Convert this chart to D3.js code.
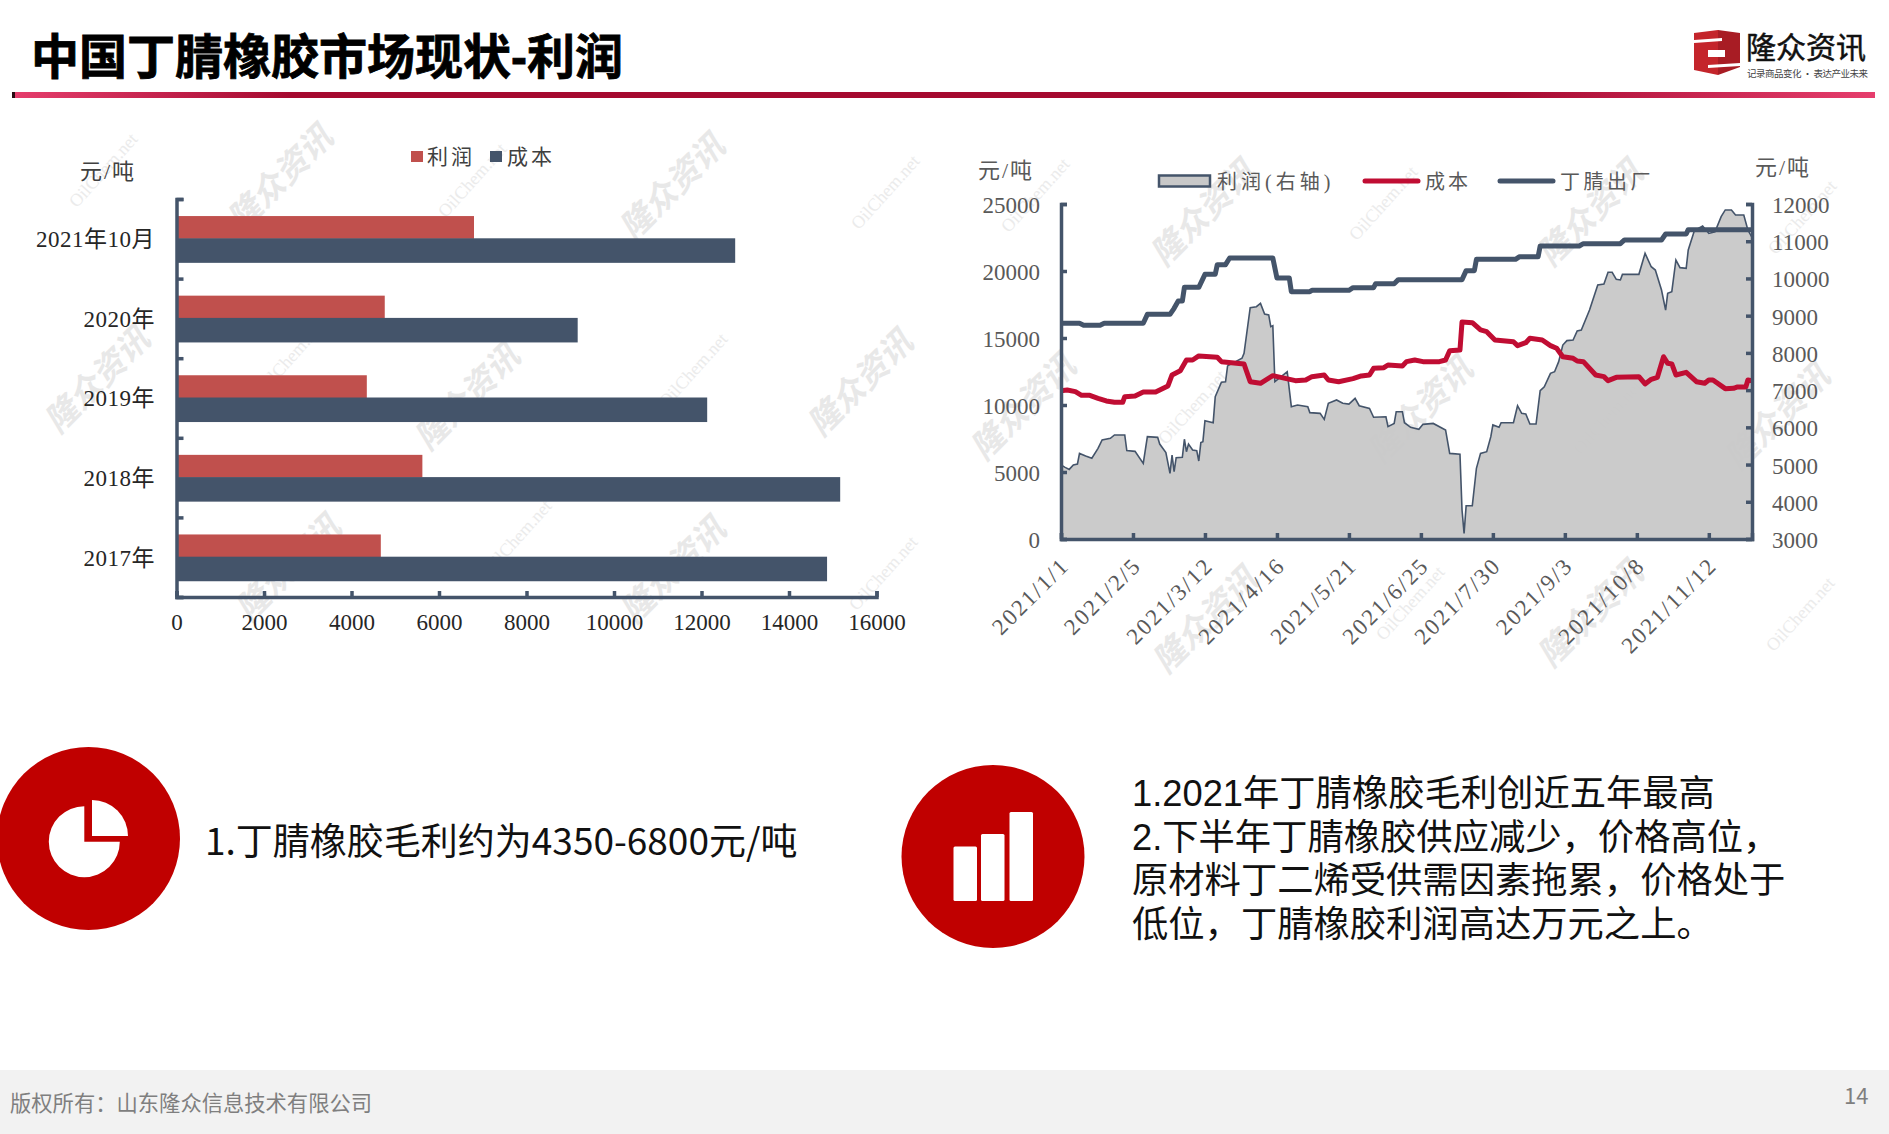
<!DOCTYPE html>
<html>
<head>
    <meta charset="utf-8">
    <title>中国丁腈橡胶市场现状-利润</title>
    <script src="https://d3js.org/d3.v7.min.js"></script>
    <style>
        html, body { margin: 0; padding: 0; background: #fff; }
        svg { display: block; }
        text { font-family: "Liberation Serif", "Noto Sans CJK SC", serif; }
        .sans { font-family: "Noto Sans CJK SC", sans-serif; }
        .arial { font-family: "Liberation Sans", "Noto Sans CJK SC", sans-serif; }
        .axis path, .axis line { stroke: #44546A; stroke-width: 3.5px; fill: none; }
        .axis text { font-size: 23px; }
    </style>
</head>
<body>
<svg id="page" width="1889" height="1134"></svg>
<script>
    // left chart
    const barCategories = ['2021年10月', '2020年', '2019年', '2018年', '2017年'];
    const barProfit = [6800, 4760, 4350, 5620, 4670];
    const barCost = [12770, 9170, 12130, 15170, 14870];
    const barTicks = [0, 2000, 4000, 6000, 8000, 10000, 12000, 14000, 16000];

    // right chart, [days since 2021/1/1, value]
    const profitSeries = [
        [0,4990],[2,4925],[4,4870],[6,4990],[8,5015],[9,5300],[12,5230],[15,5170],[18,5435],[20,5660],
        [24,5705],[26,5795],[31,5795],[32,5375],[36,5355],[40,5030],[42,5750],[47,5730],[48,5550],[51,5320],
        [53,4765],[54,5255],[55,4810],[56,5185],[59,5195],[60,5680],[61,5345],[62,5550],[64,5390],[66,5375],
        [67,5095],[68,5590],[69,5615],[70,6180],[74,6125],[75,6825],[78,7210],[80,7225],[81,7650],[88,7855],
        [89,7990],[92,9215],[95,9240],[97,9330],[99,9045],[101,9020],[102,8705],[103,8730],[104,7225],[109,7450],
        [110,7495],[112,6555],[115,6600],[120,6555],[121,6395],[126,6375],[128,6215],[130,6645],[134,6735],[137,6645],
        [140,6625],[143,6780],[145,6580],[150,6510],[152,6270],[158,6285],[159,6020],[162,6105],[163,6420],[166,6420],
        [167,6125],[170,6000],[174,5945],[176,6080],[181,6105],[187,5930],[189,5300],[194,5275],[195,3780],[196,3150],
        [197,3895],[200,3895],[202,4900],[204,5300],[207,5345],[209,5750],[210,6065],[213,6000],[214,6125],[220,6125],
        [222,6580],[224,6375],[226,6360],[228,6090],[231,6090],[233,6985],[235,7090],[238,7450],[240,7495],[242,7765],
        [244,8210],[246,8330],[249,8345],[251,8590],[253,8615],[257,9150],[261,9825],[264,9850],[266,10165],[268,10165],
        [270,9975],[272,9960],[273,10110],[281,10110],[284,10675],[287,10315],[289,10225],[292,9690],[294,9150],[295,9600],
        [297,9645],[299,10495],[301,10290],[304,10270],[305,10765],[308,11285],[312,11410],[315,11210],[318,11255],[321,11660],
        [323,11840],[326,11840],[328,11705],[332,11705],[334,11300],[336,11105]
    ];
    const costSeries = [
        [0,11070],[3,11120],[7,10995],[10,10720],[14,10720],[18,10500],[22,10300],[26,10200],[30,10200],[31,10620],
        [36,10670],[40,10970],[46,10970],[52,11420],[54,12240],[58,12560],[61,13360],[64,13360],[67,13660],[76,13560],
        [78,13235],[89,13060],[90,12610],[92,11740],[97,11620],[103,12190],[109,11990],[114,11815],[119,11865],[122,12115],
        [128,12240],[130,11865],[135,11740],[142,11965],[146,12165],[150,12240],[152,12735],[157,12785],[159,12985],[166,12910],
        [168,13235],[172,13360],[176,13235],[184,13235],[187,13360],[189,14055],[194,14105],[195,16195],[200,16145],[204,15600],
        [207,15475],[211,14850],[220,14725],[222,14430],[226,14650],[228,14975],[234,14850],[238,14430],[241,14230],[244,13605],
        [249,13485],[251,13285],[254,13235],[260,12240],[264,12115],[266,11815],[270,12065],[281,12115],[284,11570],[287,11915],
        [290,12065],[293,13605],[295,13110],[297,13060],[299,12240],[304,12440],[309,11740],[313,11620],[315,11865],[317,11865],
        [323,11220],[327,11245],[329,11345],[333,11345],[334,11865],[336,11815]
    ];
    const priceSeries = [
        [0,16095],[9,16095],[11,15945],[19,15945],[21,16095],[40,16095],[42,16765],[53,16765],[55,17215],[57,17760],
        [59,17760],[60,18780],[67,18780],[70,19750],[75,19750],[76,20475],[80,20475],[82,20970],[103,20970],[105,19480],
        [111,19480],[112,18460],[121,18460],[122,18560],[140,18560],[142,18755],[152,18755],[153,19055],[162,19055],[164,19355],
        [195,19355],[197,20025],[201,20025],[202,20870],[221,20870],[223,21070],[232,21070],[233,21865],[252,21865],[254,22040],
        [272,22040],[274,22315],[292,22315],[294,22760],[304,22760],[305,23085],[336,23085]
    ];
    const dateTicks = ['2021/1/1', '2021/2/5', '2021/3/12', '2021/4/16', '2021/5/21', '2021/6/25', '2021/7/30', '2021/9/3', '2021/10/8', '2021/11/12'];
    const leftTicks = [0, 5000, 10000, 15000, 20000, 25000];
    const rightTicks = [3000, 4000, 5000, 6000, 7000, 8000, 9000, 10000, 11000, 12000];

    // background stamps
    const stampLogo = [[280,178],[672,187],[97,380],[467,397],[860,383],[288,568],[673,570],[1203,213],[1590,213],[1023,407],[1420,410],[1777,417],[1205,620],[1590,614]];
    const stampNet = [[103,170],[472,180],[885,192],[1035,195],[1383,203],[1802,217],[290,357],[693,370],[1192,407],[1607,417],[517,537],[883,573],[1410,603],[1800,614]];

    const svg = d3.select('#page');
    const blue = '#44546A';
    const red = '#C0504D';
    const crimson = '#C00D33';
    const circleRed = '#C00000';

    // gradient of the title rule
    const grad = svg.append('defs').append('linearGradient').attr('id', 'rule');
    grad.append('stop').attr('offset', '0').attr('stop-color', '#E63E6D');
    grad.append('stop').attr('offset', '0.15').attr('stop-color', '#A50A30');
    grad.append('stop').attr('offset', '0.8').attr('stop-color', '#A50A30');
    grad.append('stop').attr('offset', '1').attr('stop-color', '#E63E6D');

    // watermarks sit under everything
    const marks = svg.append('g');
    marks.selectAll('.wm').data(stampLogo).join('text')
        .attr('class', 'wm sans')
        .attr('transform', d => `translate(${d[0]},${d[1]}) rotate(-45)`)
        .attr('text-anchor', 'middle')
        .attr('dy', '0.35em')
        .style('font-size', '33px')
        .style('font-weight', 700)
        .style('font-style', 'italic')
        .style('fill', '#E8E8E8')
        .text('隆众资讯');
    marks.selectAll('.net').data(stampNet).join('text')
        .attr('class', 'net')
        .attr('transform', d => `translate(${d[0]},${d[1]}) rotate(-48)`)
        .attr('text-anchor', 'middle')
        .attr('dy', '0.35em')
        .style('font-size', '18px')
        .style('fill', '#EBEBEB')
        .text('OilChem.net');

    // header
    svg.append('text').attr('class', 'arial')
        .attr('x', 31).attr('y', 74)
        .style('font-size', '48px').style('font-weight', 700)
        .style('stroke', '#000').style('stroke-width', 0.8)
        .text('中国丁腈橡胶市场现状-利润');
    svg.append('rect').attr('x', 12).attr('y', 92).attr('width', 1863).attr('height', 6).attr('fill', 'url(#rule)');
    svg.append('rect').attr('x', 12).attr('y', 92).attr('width', 3).attr('height', 6).attr('fill', '#2a0a12');

    // logo
    const logo = svg.append('g').attr('transform', 'translate(1694,30)');
    logo.append('path').attr('d', 'M0,3 L24,0 L24,45 L0,40 Z').attr('fill', '#C4252B');
    logo.append('path').attr('d', 'M24,0 L46,3 L46,37 L24,45 Z').attr('fill', '#A81C24');
    logo.append('path').attr('d', 'M0,10 L28,8 L28,11 L0,13 Z').attr('fill', '#fff');
    logo.append('path').attr('d', 'M14,20 L31,20 L31,27 L14,27 Z').attr('fill', '#fff');
    logo.append('path').attr('d', 'M14,35 L46,33 L46,36 L14,38 Z').attr('fill', '#fff');
    svg.append('text').attr('class', 'sans')
        .attr('x', 1746).attr('y', 58)
        .style('font-size', '30px').style('fill', '#111')
        .style('stroke', '#111').style('stroke-width', 0.5)
        .text('隆众资讯');
    svg.append('text').attr('class', 'sans')
        .attr('x', 1747).attr('y', 76.5)
        .attr('textLength', 121)
        .style('font-size', '9.5px').style('fill', '#444')
        .text('记录商品变化 · 表达产业未来');

    // ---- left chart ----
    const barX = d3.scaleLinear().domain([0, 16000]).range([176.5, 876.5]);
    const barY = d3.scaleBand().domain(barCategories).range([199, 597]);
    const barInner = d3.scaleBand().domain(['profit', 'cost']).range([0, barY.bandwidth()]).paddingOuter(0.75);

    svg.append('g').selectAll('rect').data(barCategories).join('rect')
        .attr('x', barX(0))
        .attr('y', d => barY(d) + barInner('profit'))
        .attr('width', (d, i) => barX(barProfit[i]) - barX(0))
        .attr('height', barInner.bandwidth())
        .attr('fill', red);
    // the dark bars run a little taller than the red ones in the source
    svg.append('g').selectAll('rect').data(barCategories).join('rect')
        .attr('x', barX(0))
        .attr('y', d => barY(d) + barInner('cost') - 0.5)
        .attr('width', (d, i) => barX(barCost[i]) - barX(0))
        .attr('height', barInner.bandwidth() + 1.8)
        .attr('fill', blue);

    const barAxisX = svg.append('g').attr('class', 'axis')
        .attr('transform', 'translate(0,597)')
        .call(d3.axisBottom(barX).tickValues(barTicks).tickSize(-6).tickPadding(17).tickFormat(d3.format('d')));
    barAxisX.selectAll('text').style('fill', '#262626');

    // ticks fall between the categories, labels on the band centres
    const barEdges = d3.scalePoint().domain(d3.range(barCategories.length + 1)).range([199, 597]);
    svg.append('g').attr('class', 'axis')
        .attr('transform', 'translate(176.5,0)')
        .call(d3.axisLeft(barEdges).tickSize(-7).tickFormat(''));
    const barAxisY = svg.append('g').attr('class', 'axis')
        .attr('transform', 'translate(155,1)')
        .call(d3.axisLeft(barY).tickSize(0).tickPadding(0));
    barAxisY.select('.domain').remove();
    barAxisY.selectAll('text').style('fill', '#262626').style('letter-spacing', '0.5px');

    svg.append('text').attr('x', 80).attr('y', 179)
        .style('font-size', '22px').style('fill', '#404040').style('letter-spacing', '2px')
        .text('元/吨');

    const barLegend = [['利润', red, 411, 427], ['成本', blue, 490, 507]];
    barLegend.forEach(d => {
        svg.append('rect').attr('x', d[2]).attr('y', 151).attr('width', 12).attr('height', 11).attr('fill', d[1]);
        svg.append('text').attr('x', d[3]).attr('y', 164)
            .style('font-size', '21px').style('fill', '#404040').style('letter-spacing', '3px')
            .text(d[0]);
    });

    // ---- right chart ----
    const parseDate = d3.timeParse('%Y/%-m/%-d');
    const formatDate = d3.timeFormat('%Y/%-m/%-d');
    const startDate = parseDate(dateTicks[0]);
    const toDate = day => d3.timeDay.offset(startDate, day);

    const lineX = d3.scaleTime().domain([startDate, toDate(336)]).range([1061, 1752]);
    const priceY = d3.scaleLinear().domain([0, 25000]).range([539, 204]);
    const profitY = d3.scaleLinear().domain([3000, 12000]).range([539, 204]);

    const profitArea = d3.area()
        .x(d => lineX(toDate(d[0])))
        .y0(539)
        .y1(d => profitY(d[1]));
    const profitLine = d3.line()
        .x(d => lineX(toDate(d[0])))
        .y(d => profitY(d[1]));
    const priceLine = d3.line()
        .x(d => lineX(toDate(d[0])))
        .y(d => priceY(d[1]));

    svg.append('path').datum(profitSeries).attr('d', profitArea).attr('fill', '#C8C8C8').attr('fill-opacity', 0.95);
    svg.append('path').datum(profitSeries).attr('d', profitLine)
        .attr('fill', 'none').attr('stroke', blue).attr('stroke-width', 1.6);
    svg.append('path').datum(costSeries).attr('d', priceLine)
        .attr('fill', 'none').attr('stroke', crimson).attr('stroke-width', 5).attr('stroke-linejoin', 'round');
    svg.append('path').datum(priceSeries).attr('d', priceLine)
        .attr('fill', 'none').attr('stroke', blue).attr('stroke-width', 5).attr('stroke-linejoin', 'round');

    const lineAxisL = svg.append('g').attr('class', 'axis')
        .attr('transform', 'translate(1061,0)')
        .call(d3.axisLeft(priceY).tickValues(leftTicks).tickSize(-6).tickPadding(21).tickFormat(d3.format('d')));
    lineAxisL.selectAll('text').attr('dy', '0.37em').style('fill', '#595959');

    const lineAxisR = svg.append('g').attr('class', 'axis')
        .attr('transform', 'translate(1752,0)')
        .call(d3.axisRight(profitY).tickValues(rightTicks).tickSize(-6).tickPadding(20).tickFormat(d3.format('d')));
    lineAxisR.selectAll('text').attr('dy', '0.37em').style('fill', '#595959');

    const lineAxisB = svg.append('g').attr('class', 'axis')
        .attr('transform', 'translate(0,539)')
        .call(d3.axisBottom(lineX).tickValues(dateTicks.map(parseDate)).tickSize(-6).tickFormat(formatDate));
    lineAxisB.selectAll('text')
        .attr('text-anchor', 'end')
        .attr('x', 0).attr('y', 0).attr('dy', 0)
        .attr('transform', 'translate(9,28) rotate(-45)')
        .style('fill', '#595959')
        .style('letter-spacing', '2px');

    svg.append('text').attr('x', 978).attr('y', 178)
        .style('font-size', '22px').style('fill', '#595959').style('letter-spacing', '2px').text('元/吨');
    svg.append('text').attr('x', 1755).attr('y', 175)
        .style('font-size', '22px').style('fill', '#595959').style('letter-spacing', '2px').text('元/吨');

    svg.append('rect').attr('x', 1159).attr('y', 175.5).attr('width', 51).attr('height', 11)
        .attr('fill', '#C8C8C8').attr('stroke', blue).attr('stroke-width', 2.5);
    svg.append('line').attr('x1', 1365).attr('x2', 1418).attr('y1', 181).attr('y2', 181)
        .attr('stroke', crimson).attr('stroke-width', 5).attr('stroke-linecap', 'round');
    svg.append('line').attr('x1', 1500).attr('x2', 1553).attr('y1', 181).attr('y2', 181)
        .attr('stroke', blue).attr('stroke-width', 5).attr('stroke-linecap', 'round');
    const lineLegend = [['利润(右轴)', 1217, 4], ['成本', 1425, 3], ['丁腈出厂', 1560, 3.5]];
    svg.append('g').selectAll('text').data(lineLegend).join('text')
        .attr('x', d => d[1]).attr('y', 189)
        .style('font-size', '20px').style('fill', '#595959').style('letter-spacing', d => d[2] + 'px')
        .text(d => d[0]);

    // ---- bottom icons and notes ----
    svg.append('circle').attr('cx', 88.5).attr('cy', 838.5).attr('r', 91.5).attr('fill', circleRed);
    svg.append('path').attr('transform', 'translate(84.3,841.7)')
        .attr('d', d3.arc()({ innerRadius: 0, outerRadius: 35.5, startAngle: Math.PI / 2, endAngle: 2 * Math.PI }))
        .attr('fill', '#fff');
    svg.append('path').attr('transform', 'translate(92,836)')
        .attr('d', d3.arc()({ innerRadius: 0, outerRadius: 36, startAngle: 0, endAngle: Math.PI / 2 }))
        .attr('fill', '#fff');

    svg.append('circle').attr('cx', 993).attr('cy', 856.5).attr('r', 91.5).attr('fill', circleRed);
    const iconBars = [[953.5, 846.5], [981, 834], [1009.5, 812]];
    svg.append('g').selectAll('rect').data(iconBars).join('rect')
        .attr('x', d => d[0]).attr('y', d => d[1])
        .attr('width', 23.5).attr('height', d => 901 - d[1]).attr('rx', 1.5)
        .attr('fill', '#fff');

    svg.append('text').attr('class', 'sans')
        .attr('x', 205).attr('y', 855)
        .style('font-size', '37px').style('fill', '#111')
        .text('1.丁腈橡胶毛利约为4350-6800元/吨');

    const noteLines = [
        '1.2021年丁腈橡胶毛利创近五年最高',
        '2.下半年丁腈橡胶供应减少，价格高位，',
        '原材料丁二烯受供需因素拖累，价格处于',
        '低位，丁腈橡胶利润高达万元之上。'
    ];
    svg.append('g').selectAll('text').data(noteLines).join('text')
        .attr('class', 'arial')
        .attr('x', 1132)
        .attr('y', (d, i) => 806 + i * 43.7)
        .style('font-size', '36.3px').style('fill', '#111')
        .text(d => d);

    // footer
    svg.append('rect').attr('x', 0).attr('y', 1070).attr('width', 1889).attr('height', 64).attr('fill', '#F2F2F2');
    svg.append('text').attr('class', 'sans')
        .attr('x', 10).attr('y', 1111)
        .style('font-size', '21.3px').style('fill', '#7F7F7F')
        .text('版权所有：山东隆众信息技术有限公司');
    svg.append('text').attr('class', 'sans')
        .attr('x', 1844).attr('y', 1104)
        .style('font-size', '22px').style('fill', '#7F7F7F')
        .text('14');
</script>
</body>
</html>
